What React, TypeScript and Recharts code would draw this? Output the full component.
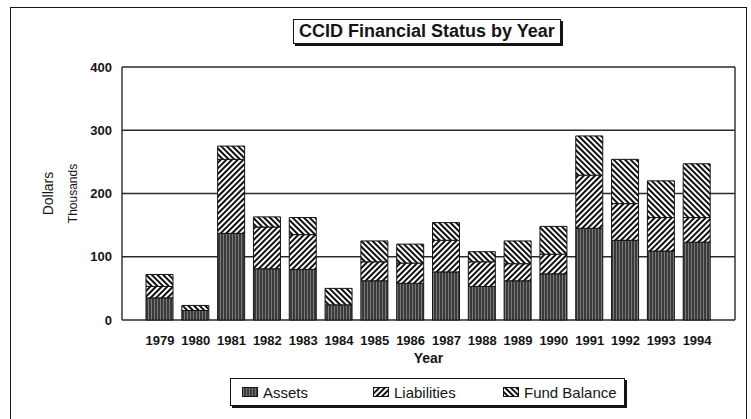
import React from "react";
import { BarChart, Bar, XAxis, YAxis, CartesianGrid, Label } from "recharts";

const years = ["1979", "1980", "1981", "1982", "1983", "1984", "1985", "1986", "1987", "1988", "1989", "1990", "1991", "1992", "1993", "1994"];
const assets = [35, 15, 137, 81, 80, 24, 62, 58, 76, 53, 62, 73, 145, 126, 109, 123];
const liabilities = [18, 0, 117, 66, 55, 0, 30, 32, 50, 39, 27, 31, 84, 58, 53, 39];
const fundBalance = [19, 8, 21, 16, 27, 26, 33, 30, 28, 16, 36, 44, 62, 70, 58, 85];
const yTicks = [0, 100, 200, 300, 400];

const data = years.map((year, i) => ({
  year,
  assets: assets[i],
  liabilities: liabilities[i],
  fund: fundBalance[i],
}));

const FONT = '"Liberation Sans", Arial, sans-serif';
const INK = "#151515";

// rotated axis title, measured from the left edge of the y axis box
const sideLabel = (text: string, dx: number, size: number, weight: string) => (props: any) => {
  const vb = props.viewBox || { x: 0, y: 0, height: 0 };
  const cx = vb.x + dx;
  const cy = vb.y + vb.height / 2;
  return (
    <text
      x={cx}
      y={cy}
      transform={`rotate(-90 ${cx} ${cy})`}
      textAnchor="middle"
      dominantBaseline="central"
      fontFamily={FONT}
      fontSize={size}
      fontWeight={weight}
      fill={INK}
    >
      {text}
    </text>
  );
};

function Patterns() {
  return (
    <defs>
      <pattern id="pAssets" width="3" height="4" patternUnits="userSpaceOnUse">
        <rect width="3" height="4" fill="#3a3a3a" />
        <line x1="1.5" y1="0" x2="1.5" y2="4" stroke="#8c8c8c" strokeWidth="0.8" />
      </pattern>
      <pattern id="pLiab" width="4" height="4" patternUnits="userSpaceOnUse" patternTransform="rotate(45)">
        <rect width="4" height="4" fill="#ffffff" />
        <line x1="1" y1="0" x2="1" y2="4" stroke="#111" strokeWidth="2" />
      </pattern>
      <pattern id="pFund" width="4" height="4" patternUnits="userSpaceOnUse" patternTransform="rotate(-45)">
        <rect width="4" height="4" fill="#ffffff" />
        <line x1="1" y1="0" x2="1" y2="4" stroke="#111" strokeWidth="2" />
      </pattern>
    </defs>
  );
}

const legendItems = [
  { name: "Assets", fill: "url(#pAssets)", width: 131 },
  { name: "Liabilities", fill: "url(#pLiab)", width: 130 },
  { name: "Fund Balance", fill: "url(#pFund)", width: 120 },
];

function Swatch({ fill }: { fill: string }) {
  return (
    <svg width={16} height={10} style={{ marginRight: 5 }}>
      <rect x={0.5} y={0.5} width={15} height={9} fill={fill} stroke={INK} strokeWidth={1} />
    </svg>
  );
}

export default function App() {
  return (
    <div style={{ position: "absolute", left: 0, top: 0, width: 751, height: 419, overflow: "hidden", background: "#fff", fontFamily: FONT }}>
      {/* outer frame */}
      <div style={{ position: "absolute", left: 10, top: 7, width: 735, height: 440, border: `1.5px solid ${INK}` }} />

      <div style={{ position: "absolute", left: 0, top: 0 }}>
        <BarChart width={751} height={419} data={data} margin={{ top: 67, right: 16, bottom: 54, left: 0 }} barSize={27}>
          <Patterns />
          <CartesianGrid
            stroke="#2a2a2a"
            strokeWidth={1.4}
            verticalCoordinatesGenerator={({ offset }: any) => [offset.left, offset.left + offset.width]}
          />
          <XAxis
            dataKey="year"
            axisLine={false}
            tickLine={false}
            tickMargin={10}
            height={45}
            padding={{ left: 20, right: 20 }}
            tick={{ fontSize: 13, fontWeight: "bold", fill: INK, fontFamily: FONT }}
          >
            <Label value="Year" position="insideBottom" offset={2} style={{ fontSize: 14, fontWeight: "bold", fill: INK, fontFamily: FONT }} />
          </XAxis>
          <YAxis
            width={122}
            domain={[0, 400]}
            ticks={yTicks}
            axisLine={false}
            tickLine={false}
            tickMargin={4}
            tick={{ fontSize: 13, fontWeight: "bold", fill: INK, fontFamily: FONT }}
          >
            <Label content={sideLabel("Dollars", 48, 14, "normal")} />
            <Label content={sideLabel("Thousands", 73, 12, "normal")} />
          </YAxis>
          <Bar dataKey="assets" stackId="a" fill="url(#pAssets)" stroke={INK} strokeWidth={1} isAnimationActive={false} />
          <Bar dataKey="liabilities" stackId="a" fill="url(#pLiab)" stroke={INK} strokeWidth={1} isAnimationActive={false} />
          <Bar dataKey="fund" stackId="a" fill="url(#pFund)" stroke={INK} strokeWidth={1} isAnimationActive={false} />
        </BarChart>
      </div>

      {/* title box */}
      <div
        style={{
          position: "absolute",
          left: 293,
          top: 19,
          height: 23,
          padding: "0 5px",
          border: `1.5px solid ${INK}`,
          boxShadow: `2px 2px 0 ${INK}`,
          background: "#fff",
          fontSize: 18,
          fontWeight: "bold",
          lineHeight: "23px",
          color: INK,
          whiteSpace: "nowrap",
        }}
      >
        CCID Financial Status by Year
      </div>

      {/* legend box */}
      <div
        style={{
          position: "absolute",
          left: 230,
          top: 378,
          width: 395,
          height: 28,
          border: `1.5px solid ${INK}`,
          boxShadow: `2px 2px 0 ${INK}`,
          background: "#fff",
          display: "flex",
          alignItems: "center",
          paddingLeft: 11,
          boxSizing: "border-box",
        }}
      >
        {legendItems.map((item) => (
          <div key={item.name} style={{ display: "flex", alignItems: "center", width: item.width, fontSize: 15, color: INK }}>
            <Swatch fill={item.fill} />
            {item.name}
          </div>
        ))}
      </div>
    </div>
  );
}
